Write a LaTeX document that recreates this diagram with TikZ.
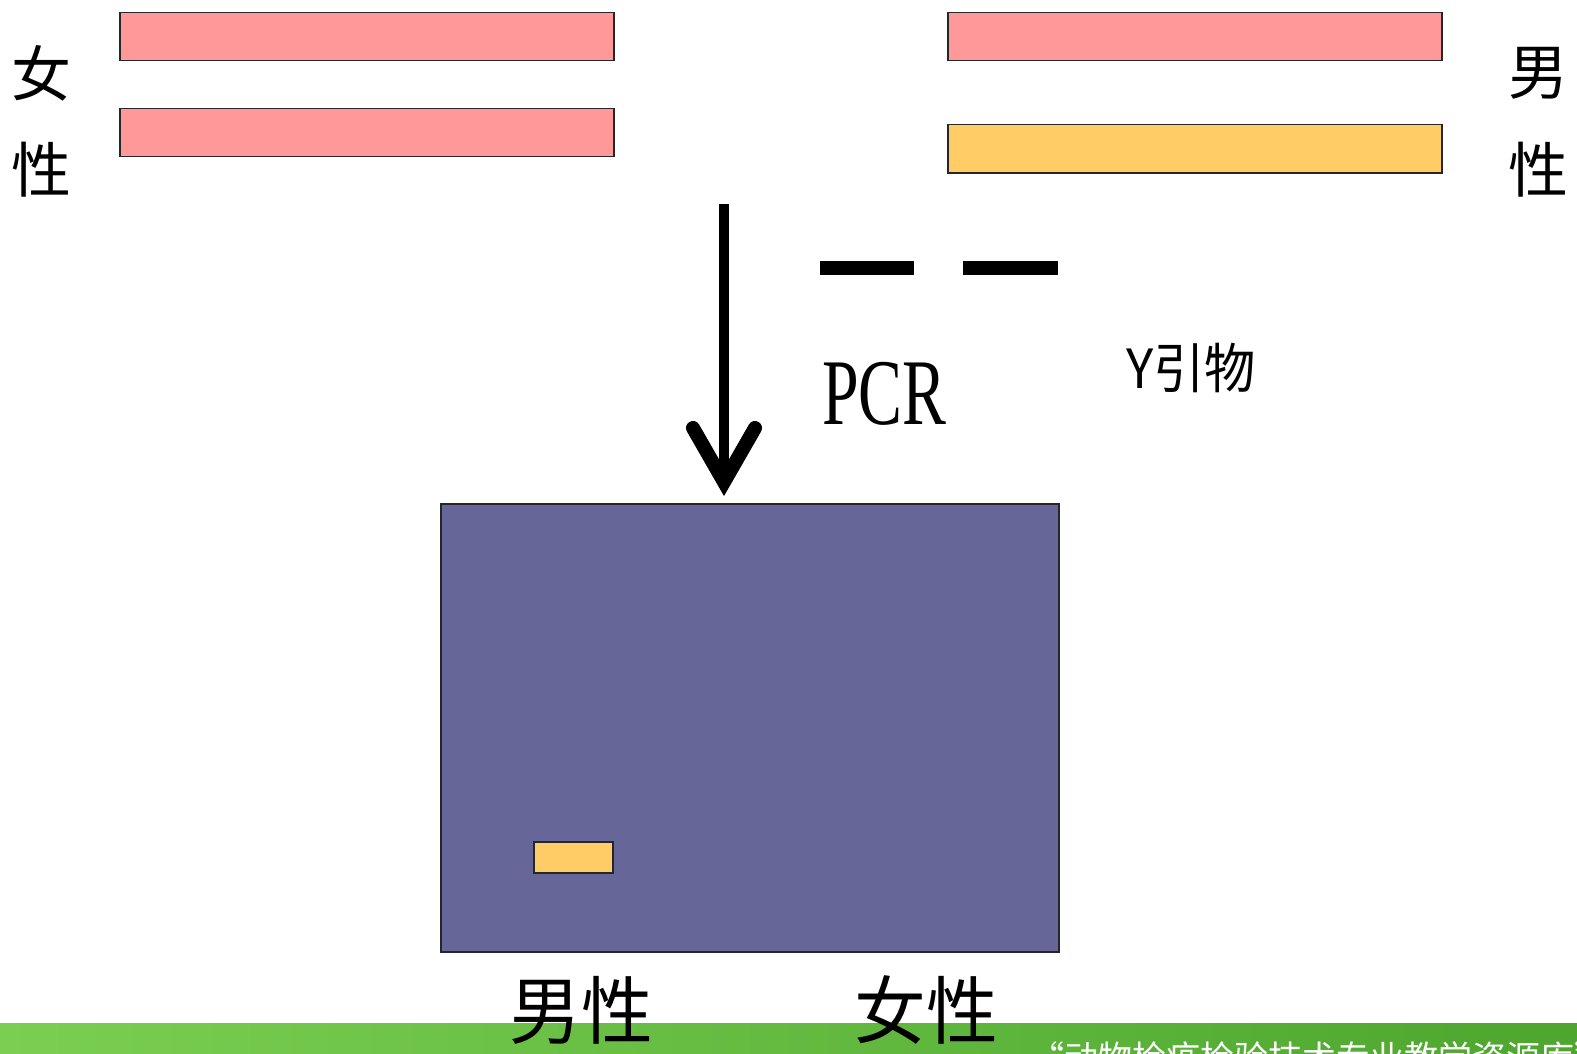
\documentclass[tikz,border=0pt]{standalone}
\usepackage{fontspec}
\newfontfamily\cjk{Noto Sans CJK SC}
\setmainfont{Liberation Serif}
\definecolor{pinkbar}{HTML}{FF9999}
\definecolor{yelbar}{HTML}{FFCC66}
\definecolor{gelcol}{HTML}{666699}
\definecolor{grnL}{HTML}{7ACF52}
\definecolor{grnR}{HTML}{4EA62E}
\tikzset{
  chrom/.style={draw=black!85, line width=1.5pt, inner sep=0pt, minimum width=494pt, minimum height=48pt, anchor=north west},
  side/.style={font=\cjk\fontsize{60}{60}\selectfont, inner sep=0pt},
  primer/.style={line width=14pt},
}
\begin{document}
\begin{tikzpicture}[x=1pt,y=-1pt]
\useasboundingbox (0,0) rectangle (1577,1054);
\fill[white] (0,0) rectangle (1577,1054);
% green bar
\shade[left color=grnL, right color=grnR] (0,1023) rectangle (1577,1054);
% chromosomes
\node[chrom, fill=pinkbar] (f1) at (119,12) {};
\node[chrom, fill=pinkbar] (f2) at (119,108) {};
\node[chrom, fill=pinkbar] (m1) at (947,12) {};
\node[chrom, fill=yelbar] (m2) at (947,124) {};
% side labels
\node[side] (nv) at (42,73) {女};
\node[side] (nx1) at (42,170) {性};
\node[side] (nn) at (1538,73) {男};
\node[side] (nx2) at (1538,170) {性};
% gel
\node[draw=black!85, line width=1.5pt, fill=gelcol, inner sep=0pt, minimum width=618pt, minimum height=448pt, anchor=north west] (gel) at (440,503) {};
\node[draw=black!85, line width=1.5pt, fill=yelbar, inner sep=0pt, minimum width=79pt, minimum height=31pt, anchor=north west] (band) at (533,841) {};
% arrow
\coordinate (astart) at (724,204);
\coordinate (atip) at (724,482);
\draw[line width=10pt] (astart) -- ([yshift=-6pt]atip);
\draw[line width=14pt, line cap=round, line join=miter] (693,428) -- (atip) -- (755,428);
% primers
\coordinate (p1a) at (820,268); \coordinate (p1b) at (914,268);
\coordinate (p2a) at (963,268); \coordinate (p2b) at (1058,268);
\draw[primer] (p1a) -- (p1b);
\draw[primer] (p2a) -- (p2b);
% labels
\node[inner sep=0pt, anchor=west, xscale=0.7, font=\fontsize{94}{94}\selectfont] (pcr) at (822,394) {PCR};
\node[inner sep=0pt, anchor=west, xscale=0.95, font=\cjk\fontsize{54}{54}\selectfont] (yp) at (1126,368) {Y引物};
\node[inner sep=0pt, xscale=0.97, font=\cjk\fontsize{74}{74}\selectfont] (lm) at (581,1010) {男性};
\node[inner sep=0pt, xscale=0.97, font=\cjk\fontsize{74}{74}\selectfont] (lf) at (926,1010) {女性};
% footer text (clipped, as in the reference)
\begin{scope}
\clip (0,0) rectangle (1577,1054);
\node[inner sep=0pt, anchor=west, text=white, font=\cjk\fontsize{34}{34}\selectfont] (foot) at (1030,1058) {“动物检疫检验技术专业教学资源库”};
\end{scope}
\end{tikzpicture}
\end{document}
